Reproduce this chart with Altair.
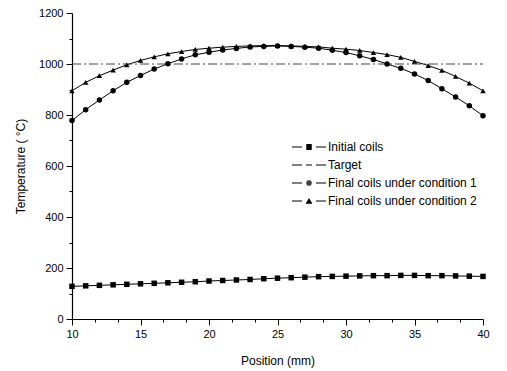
import altair as alt
import pandas as pd

positions = list(range(10, 41))
initial_coils = [128, 130, 132, 134, 136, 138, 140, 142, 144, 146, 149, 151, 153, 155, 158,
                 160, 162, 164, 166, 167, 168, 169, 170, 170, 171, 171, 170, 170, 169, 168, 167]
cond1 = [778, 821, 859, 895, 928, 955, 980, 1001, 1020, 1036, 1046, 1055, 1061, 1067, 1069,
         1071, 1069, 1066, 1062, 1054, 1045, 1032, 1018, 1000, 983, 961, 935, 903, 871, 836, 797]
cond2 = [895, 928, 954, 976, 997, 1014, 1028, 1040, 1049, 1057, 1062, 1066, 1069, 1071, 1072,
         1072, 1071, 1069, 1067, 1062, 1058, 1053, 1045, 1037, 1026, 1010, 994, 975, 951, 925, 895]
target_pos = [10, 40]
target_vals = [1000, 1000]
series_names = ["Initial coils", "Target", "Final coils under condition 1",
                "Final coils under condition 2"]

rows = []
for name, vals in [(series_names[0], initial_coils), (series_names[2], cond1),
                   (series_names[3], cond2)]:
    for p, v in zip(positions, vals):
        rows.append({"series": name, "pos": p, "temp": v})
df = pd.DataFrame(rows)
tdf = pd.DataFrame({"series": "Target", "pos": target_pos, "temp": target_vals})
legdf = pd.DataFrame({"entry": series_names})

x_ticks = [10 + i * 5 / 3 for i in range(19)]
y_ticks = list(range(0, 1201, 100))

FONT = "Liberation Sans"

x_axis = alt.Axis(
    values=x_ticks, labelExpr="abs(datum.value/5 - round(datum.value/5)) < 0.001 ? datum.label : ''",
    tickSize={"condition": {"test": "abs(datum.value/5 - round(datum.value/5)) < 0.001", "value": 6}, "value": 3},
    labelOverlap=False, labelFlush=False, grid=False, domainColor="black", tickColor="black",
    domainWidth=1.2, tickWidth=1, labelFont=FONT, labelFontSize=11, labelColor="black",
    labelPadding=3, titleFont=FONT, titleFontSize=12, titleFontWeight="normal", titleColor="black",
    titlePadding=16,
)
y_axis = alt.Axis(
    values=y_ticks, labelExpr="datum.value % 200 == 0 ? datum.label : ''",
    tickSize={"condition": {"test": "datum.value % 200 == 0", "value": 6}, "value": 3},
    labelOverlap=False, labelFlush=False, grid=False, domainColor="black", tickColor="black",
    domainWidth=1.2, tickWidth=1, labelFont=FONT, labelFontSize=11, labelColor="black",
    labelPadding=3, titleFont=FONT, titleFontSize=12, titleFontWeight="normal", titleColor="black",
    titlePadding=11, format="d",
)

X = alt.X("pos:Q", scale=alt.Scale(domain=[10, 40], nice=False), axis=x_axis, title="Position (mm)")
Y = alt.Y("temp:Q", scale=alt.Scale(domain=[0, 1200], nice=False), axis=y_axis,
          title="Temperature ( °C)")

lines = alt.Chart(df).mark_line(color="black", strokeWidth=1).encode(
    x=X, y=Y, detail="series:N")
points = alt.Chart(df).mark_point(filled=True, color="black", opacity=1).encode(
    x=X, y=Y,
    shape=alt.Shape("series:N", scale=alt.Scale(domain=[series_names[0], series_names[2], series_names[3]],
                                                range=["square", "circle", "triangle-up"]), legend=None),
    size=alt.Size("series:N", scale=alt.Scale(domain=[series_names[0], series_names[2], series_names[3]],
                                              range=[30, 30, 40]), legend=None),
)
target = alt.Chart(tdf).mark_line(color="#444444", strokeWidth=1, strokeDash=[9, 3, 2, 3]).encode(
    x=X, y=Y)


def seg(x0, x1, y):
    return f"M{x0},{y}L{x1},{y}"


# legend glyphs: line - marker - line, markers drawn as stacked strokes
side = seg(-3.4, -1.4, 0) + seg(1.4, 3.4, 0)
sq = side + "".join(seg(-0.55, 0.55, y) for y in (-0.5, -0.3, -0.1, 0.1, 0.3, 0.5))
dash = seg(-3.4, -1.4, 0) + seg(-0.6, 0.6, 0) + seg(1.4, 3.4, 0)
circ = side + "".join(seg(-w, w, y) for y, w in ((-0.4, 0.38), (-0.2, 0.51), (0, 0.55), (0.2, 0.51), (0.4, 0.38)))
tri = side + "".join(seg(-w, w, y) for y, w in ((-0.5, 0.06), (-0.3, 0.18), (-0.1, 0.3), (0.1, 0.42), (0.3, 0.54), (0.45, 0.62)))

legend_layer = alt.Chart(legdf).transform_filter("false").mark_point(
    filled=False, color="black", strokeWidth=1, opacity=1).encode(
    x=alt.value(0), y=alt.value(0),
    shape=alt.Shape("entry:N", scale=alt.Scale(domain=series_names, range=[sq, dash, circ, tri]),
                    legend=alt.Legend(
                        title=None, orient="none", legendX=231, legendY=128, padding=0,
                        symbolSize=100, symbolStrokeColor="black",
                        symbolStrokeWidth=1, symbolOpacity=1, labelOffset=13, rowPadding=6,
                        labelFont=FONT, labelFontSize=12, labelColor="black", labelLimit=400)),
)

chart = alt.layer(lines, target, points, legend_layer).resolve_scale(
    shape="independent", size="independent").properties(
    width=411, height=306,
    autosize=alt.AutoSizeParams(type="none"),
    padding={"left": 64, "top": 5, "right": 16, "bottom": 52},
).configure_view(stroke=None)

chart.save("out.html", embed_options={"renderer": "svg", "actions": False})
